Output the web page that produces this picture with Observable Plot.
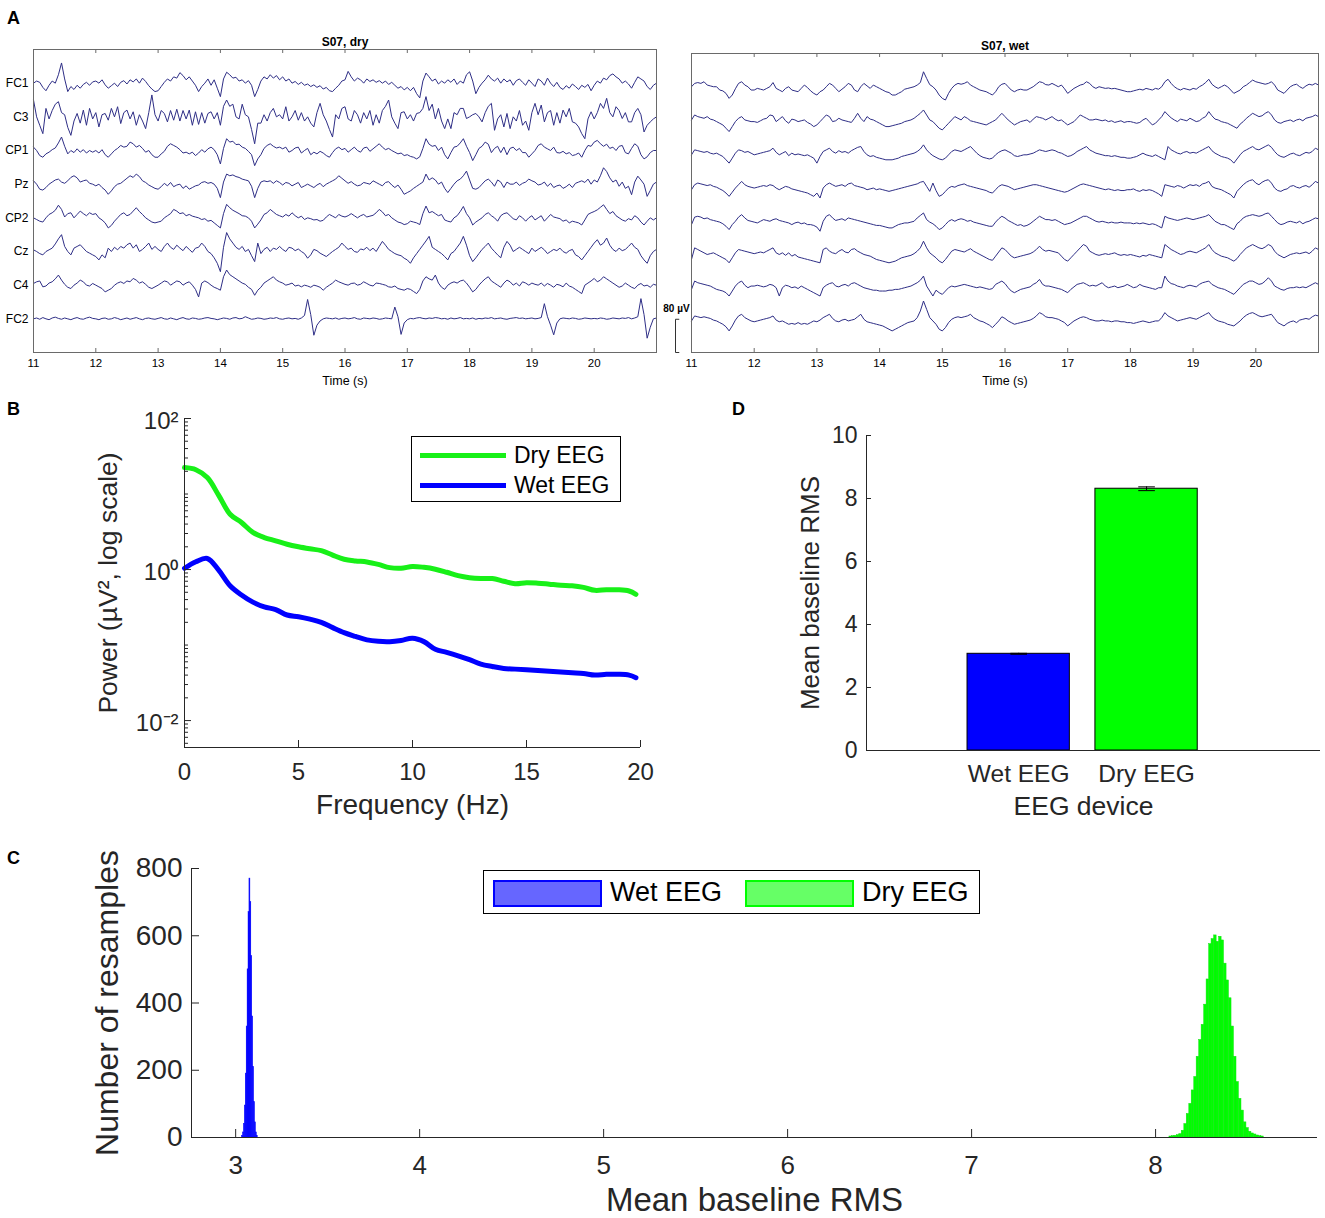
<!DOCTYPE html>
<html>
<head>
<meta charset="utf-8">
<script src="https://cdn.jsdelivr.net/npm/d3@7"></script>
<script src="https://cdn.jsdelivr.net/npm/@observablehq/plot@0.6"></script>
<style>
  body { margin: 0; background: #fff; }
  #fig { position: relative; width: 1325px; height: 1218px; overflow: hidden; background: #fff;
         font-family: "Liberation Sans", Arial, Helvetica, sans-serif; color: #262626; }
  .panel { position: absolute; }
  .panel svg { display: block; overflow: visible; }
  .letter { position: absolute; font-weight: bold; font-size: 18px; color: #000; line-height: 1; }
  .legend { position: absolute; border: 1px solid #000; background: #fff; box-sizing: border-box; }
  .legend .sw { position: absolute; box-sizing: border-box; }
  .legend .lb { position: absolute; white-space: nowrap; line-height: 1; color: #000; }
</style>
</head>
<body>
<div id="fig"></div>
<script>
// ---------------- DATA ----------------
// Panel A: EEG traces (µV), sampled every 0.05 s from 11 s
const channels = ["FC1", "C3", "CP1", "Pz", "CP2", "Cz", "C4", "FC2"];
const eegStart = 11;
const eegStep = 0.05;
const channelSpacing = 80;      // µV between traces (scale bar = 80 µV)
const scaleBarUV = 80;
const timeTicks = [11, 12, 13, 14, 15, 16, 17, 18, 19, 20];

const dryFC1 = [
  0, 5, 2, -10, -18, -5, 5, 0, 20, 48, 10, -20, -8, -15, -5, -12, -3, 2, -5, 3,
  5, 0, 8, -4, -12, -6, 0, -8, 2, 6, -2, 8, 3, 10, 0, 12, 4, -6, -14, -20,
  -18, -8, 2, 10, 5, 15, 12, 25, 18, 8, 15, 5, -5, -20, -8, 0, 10, -5, 8, -12,
  -32, 10, 26, 20, 12, 14, 5, 8, 0, 6, -5, -32, -15, 5, 15, 10, 20, 12, 18, 8,
  15, 5, 10, 0, 4, -3, 2, -5, -2, -8, -4, -10, -6, -14, -10, -18, -20, -12, -5, 5,
  8, 28, 15, 5, 12, 8, 0, 10, 4, 8, 2, 6, 0, 5, -3, 2, -5, -12, -8, -16,
  -10, -18, -10, -25, -35, 5, 24, 15, 5, 10, -2, 5, 0, 8, 2, 10, -3, 5, 0, 20,
  27, 5, -25, -10, 0, 8, 19, 10, 5, 12, 0, 10, 3, 8, -5, 6, 10, 2, -5, 8,
  0, -8, 10, 5, -5, 12, 0, -8, 2, -10, -15, -6, -12, -2, -8, -15, -5, -10, -3, -18,
  -5, 5, 0, 12, 8, 18, 22, 15, 10, 0, 5, -2, -12, 2, 15, 10, 5, -8, -15, -5, 0];
const dryC3 = [
  40, 0, -20, -40, 20, -5, 15, 30, 36, 10, 5, -25, -44, -10, 8, -15, 16, -20, 20, -5,
  10, -24, 5, 8, -8, 20, 0, 24, -16, 10, 16, -5, 12, -20, 5, -10, -28, 10, 52, 5,
  -10, 15, 8, -12, 15, -8, 18, -10, 15, -5, 16, -20, 12, -18, 10, -15, 8, 12, -5, 10,
  -20, 25, 40, 25, 30, 0, -5, 30, 5, 0, -30, -64, -15, -15, 5, -10, 10, 20, 0, 5,
  -5, 24, -10, 0, 15, -8, 10, -10, 0, -15, -24, 10, 32, 5, -10, -30, -48, 5, -5, 20,
  24, -5, -10, 15, 5, -15, 10, -5, 15, -20, 5, -15, 15, 25, 40, 0, -15, -28, 10, 12,
  -5, 5, -10, 8, 10, 20, 48, 15, 30, -5, 20, -10, -28, -5, -28, 10, 5, 20, 20, -4,
  0, 5, 8, 0, -12, 10, 25, 32, -32, -5, 5, -24, 8, -28, 0, -10, 15, -20, -10, -32,
  10, 32, 5, 28, -12, 10, 15, -20, 10, -15, 16, 0, 20, -12, -15, -24, -40, -52, -5, 12,
  -5, 10, 32, 20, 44, 10, 0, 24, 15, -4, 10, -12, -12, 10, 20, 5, -36, -20, -12, -5, 0];
const dryCP1 = [
  8, 0, -12, -16, -8, -4, 2, 6, 18, 32, 10, -8, 0, -5, 4, -4, 2, -6, 0, -4,
  0, -6, 2, -10, -16, -8, 0, 5, 12, 8, 10, 20, 16, 8, 12, 5, -4, 0, -10, -16,
  -16, -8, -2, 10, 16, 12, 8, 2, -6, -4, -8, -4, -12, -6, 2, -4, 4, 8, 2, -10,
  -32, 5, 28, 20, 22, 14, 15, 8, 5, -2, -10, -36, -20, -10, 5, 12, 16, 10, 6, 8,
  4, 8, -4, 0, 6, 8, -6, 0, 5, -10, -4, -8, -2, -6, -12, -16, -5, 4, 8, 2,
  5, -4, 2, 8, 0, -4, 6, 8, -2, 4, 10, 16, 8, 2, 5, 0, -4, -8, -6, -12,
  -10, -14, -16, -20, -15, 5, 28, 15, 10, 12, 0, 8, -10, -20, -5, 8, 10, 18, 28, 10,
  -5, -24, -10, 5, 10, 20, 15, -5, 5, 10, -5, 8, -10, 5, 8, 0, 5, -5, -5, -16,
  -8, 0, 12, 16, 8, 4, 0, 8, -5, -6, -2, -8, -5, -12, -10, -6, -16, 0, 12, 10,
  20, 24, 16, 10, 15, 5, 8, 0, 10, 12, -5, -8, 5, 16, 10, -10, -20, -15, -5, 0, 0];
const dryPz = [
  8, 0, -12, -14, -8, 0, 5, 10, 12, 5, 2, 8, 16, 20, 15, 5, 8, 10, 2, 0,
  -4, 0, -8, -14, -24, -16, -6, 0, 2, 8, 14, 20, 16, 24, 18, 8, 4, -2, -6, -10,
  -12, -6, 2, -4, 4, -6, -2, 0, -10, -4, -12, -8, -4, -2, 4, 6, 2, 4, 0, -10,
  -32, 5, 24, 20, 22, 18, 16, 12, 10, 8, -5, -32, -10, 5, 8, 6, 8, 2, 8, 4,
  -2, 4, 2, -4, 0, 4, -8, -4, 0, -4, -8, -2, 2, -6, 0, 4, 8, 12, 20, 14,
  8, 2, 6, 0, -4, -2, 4, 2, 0, 8, 4, 0, -4, 4, 6, -2, -8, -2, -12, -24,
  -20, -16, -10, -5, 0, 5, 24, 10, 15, 10, 0, 5, -10, -20, -10, 0, 8, 12, 20, 31,
  10, -10, -12, -8, 0, 8, 12, 5, -5, 10, 5, -8, 5, 0, 0, 5, -3, 2, 5, 12,
  8, 5, -2, 0, 5, -5, 2, -8, -4, -2, -10, -6, 0, -8, 2, 5, 8, 4, 12, 0,
  10, 5, 20, 39, 30, 15, 5, 10, -5, 5, -10, -5, -25, 5, 19, 10, 0, -29, -15, 0, 5];
const dryCP2 = [
  0, -4, -8, -10, 0, 8, 12, 18, 30, 20, 2, 10, 12, 0, 8, 16, 10, 5, 12, 8,
  10, 0, -5, -12, -24, -18, -8, 0, 8, 12, 5, 8, 16, 24, 15, 8, 0, -5, -10, -12,
  -10, -8, 0, 5, 10, 20, 16, 10, 12, 5, 8, 4, 2, 0, -4, -2, -8, -6, -12, -18,
  -24, 10, 32, 24, 18, 14, 10, 5, 4, 0, -8, -24, -15, -5, 8, 12, 20, 14, 8, 5,
  2, 8, 4, 12, 5, 0, 4, -4, 0, -2, -5, -4, -8, -6, 2, 8, 4, 0, 8, 4,
  2, 5, 10, 5, 0, 5, 8, 2, 4, 6, 12, 20, 14, 5, 8, 0, -5, -10, -12, -16,
  -14, -8, -10, -12, -16, 10, 28, 12, 15, 10, 5, 8, -5, -8, -10, 0, 5, 15, 27, 10,
  0, -17, -10, -5, 0, 8, 12, 5, 0, -8, 5, 10, 12, 5, -2, -5, 5, 0, -8, 0,
  5, -5, 0, 5, -8, 0, 8, 2, 0, -2, -8, -5, -12, -8, -10, -12, -17, -5, 8, 12,
  15, 19, 25, 31, 20, 10, 15, 5, 0, -5, -8, -2, -5, 5, 0, -10, -17, -8, 0, -5, 0];
const dryCz = [
  4, 0, -5, -8, 0, 4, 8, 18, 30, 40, 12, 0, -8, 8, 12, 16, 8, 0, -4, -8,
  -12, -20, -8, -15, 8, 0, 10, 4, 12, 8, 16, 20, 8, 16, 0, 5, 12, 20, 5, 12,
  5, 0, 12, 20, 10, 5, 15, 8, 2, 12, 5, -2, 8, 10, 20, 12, 0, -5, -15, -28,
  -48, 10, 45, 30, 20, 10, 5, 12, 0, 5, -10, -24, 20, -5, 5, 10, 0, 8, 5, 12,
  5, 0, 10, 8, 2, 6, 0, -5, -16, -8, 5, 2, -4, -8, -12, -6, 0, 5, 10, 20,
  12, 5, 8, 0, -2, 6, 4, 10, 2, 8, 0, 12, 24, 15, 5, 0, -5, -8, -10, -16,
  -20, -28, -15, -5, 5, 15, 25, 36, 10, 5, 0, -5, -12, -20, -5, 0, 10, 20, 36, 15,
  -10, -24, -15, -5, 5, 12, 20, 8, 0, -8, -15, 10, 24, 15, 0, 5, 10, 5, 0, -5,
  8, 0, 5, 10, 4, -5, 0, 5, 2, 8, 0, -4, 2, 5, -8, -12, -20, -10, 0, 10,
  20, 28, 15, 20, 32, 15, 5, 0, 8, 2, 5, 12, 20, 10, 5, -10, -20, -28, -10, 0, 5];
const dryC4 = [
  4, 8, 10, -4, -2, 5, 8, 15, 24, 12, 2, -5, -8, 0, 5, 12, 8, 0, -2, 4,
  0, -4, -8, -16, -12, -8, 0, 5, 8, 4, 10, 8, 16, 12, 5, 8, 2, -5, -8, -4,
  0, 5, 10, 8, 0, 5, 10, 8, 0, 5, 8, 0, -10, -28, 5, 10, 6, 0, -5, -8,
  -12, 20, 36, 25, 20, 15, 10, 5, 2, -5, -10, -24, -12, -5, 5, 10, 15, 20, 12, 8,
  5, 0, 2, 5, -2, 0, -4, 0, -2, -5, 0, -2, -5, -12, -5, 0, 5, 12, 8, 5,
  2, 0, 4, 5, 0, 2, 8, 4, 0, -2, 5, 4, 2, 0, -4, -5, -2, -8, -10, -12,
  -8, -10, -15, -20, -10, 10, 20, 15, 12, 24, 5, -5, -10, 0, 5, 8, 5, 10, 12, 5,
  -5, -16, -10, 0, 8, 15, 20, 10, 5, 0, -5, 5, 12, 8, 0, 5, -2, 8, 5, 0,
  5, 2, 0, 5, -2, 4, 0, -5, 2, 0, -4, 5, -2, -5, -10, -15, -20, 0, 5, 10,
  16, 8, 12, 20, 15, 10, 5, 0, -5, -2, 5, 0, -5, -8, 0, 4, -2, 0, -5, 2, 0];
const dryFC2 = [
  0, 2, -1, 3, 0, -2, 2, 4, 1, -1, 2, 0, -2, 1, 3, 0, -1, 2, 4, 1,
  0, -2, 1, 2, -1, 0, 3, 1, -2, 0, 2, -1, 1, 3, 0, -2, 1, 2, 0, -1,
  1, 3, 0, -1, 2, 0, -2, 1, 3, 0, -1, 2, 1, -1, 0, 2, 3, 1, 0, -2,
  0, 2, 1, -1, 2, 3, 0, 1, 5, 2, -1, 0, 2, 1, -1, 0, 2, 1, 3, 0,
  -1, 1, 2, 0, 1, -1, 2, 8, 46, 10, -39, -15, -5, 0, 2, 1, 0, 2, -1, 1,
  2, 0, 1, 3, 0, -1, 2, 1, 0, 2, 1, -1, 0, 2, 1, 0, 28, 5, -37, -10,
  -2, 1, 0, 2, 3, 1, 0, 2, 1, 3, 2, 0, 1, -1, 2, 0, 1, 3, 0, 1,
  0, 2, -1, 1, 0, 2, 1, 3, 0, 1, 2, 0, -1, 1, 2, 3, 1, 2, 0, 1,
  2, 0, 1, 3, 36, 5, -15, -38, -10, 0, 2, 1, 0, 2, 1, -1, 0, 2, 1, 0,
  1, 0, 2, 1, -1, 0, 2, 1, 0, 2, 1, 3, 0, 2, 5, 48, 10, -46, -20, 0, 2];

const wetFC1 = [
  0, 8, 10, 8, 12, 4, 2, 0, 0, -8, -10, -16, -28, -20, -5, 8, 12, 4, 0, -8,
  -8, -4, -6, -8, -4, 0, 10, -4, -8, -12, -4, 0, -8, -10, -12, -4, 4, -2, -10, -16,
  -20, -12, -8, 0, 8, 4, -4, -12, -6, 0, 8, 4, -8, -12, 0, 8, 2, -4, 4, 0,
  -4, -8, -12, -14, -20, -20, -16, -12, -6, -4, -2, 0, 4, 10, 36, 20, 5, 0, -8, -20,
  -28, -32, -16, -4, 4, 8, 6, 8, 12, 4, 0, -4, -8, -10, -12, -16, -20, -12, 0, 6,
  8, 0, -8, -12, -8, -6, -8, -8, -4, 0, 6, 12, 10, 5, 4, 8, 4, 0, 4, -5,
  -16, -10, -4, 0, 4, 6, 12, 8, 0, -4, 0, -2, -4, -3, -5, -4, -6, -8, -10, -12,
  -12, -10, -8, -6, -8, -4, -6, -8, -4, -6, 0, 12, 18, 8, 0, -5, -8, -4, -6, -8,
  -4, -6, 0, 4, 10, 18, 6, 0, -4, 0, 4, 0, -8, -16, -12, -8, 0, 4, 10, 16,
  12, 10, 8, 6, 8, 12, 4, -8, -12, -16, -8, 0, 4, 6, 0, -4, 2, 6, 4, 8, 4];
const wetC3 = [
  0, 12, 8, 6, 4, 8, 2, 0, -4, -8, -12, -20, -28, -16, -4, 4, 8, 0, -2, -4,
  -4, -6, -2, 2, 4, 12, 10, -4, 2, 8, -2, -8, 2, 0, -4, -2, 0, -6, -10, -16,
  -12, -4, 4, 12, 8, -4, -2, 4, 0, -2, -4, -6, 4, 16, 4, -4, 8, 2, 0, -4,
  -8, -12, -16, -16, -14, -12, -10, -8, -4, -2, 0, 4, 10, 16, 24, 12, 0, -4, -12, -20,
  -24, -16, -8, 0, 8, 4, 0, 8, 4, -2, -4, -6, -8, -10, -12, -8, -4, 0, 8, 16,
  8, 0, -6, -12, -8, -4, -2, 0, -6, 2, 8, 6, 4, 0, 4, 8, 2, -2, 0, -6,
  -12, -8, -4, 4, 12, 8, 4, 0, 0, 2, 0, -2, 0, -4, -2, -6, -4, -2, -6, -4,
  -4, -6, -8, -6, 0, 4, -4, -12, -8, 0, 8, 20, 12, 5, 0, -4, 2, 0, -2, 4,
  0, -4, -2, 4, 8, 20, 10, 2, 0, -4, -6, -8, -12, -16, -20, -10, -4, 4, 10, 16,
  12, 8, 10, 16, 20, 12, 0, -6, -8, -4, -2, 0, -4, 0, 2, -2, 4, 6, 8, 12, 8];
const wetCP1 = [
  -4, 8, 6, 4, 2, 4, 0, -2, 0, -4, -8, -16, -24, -12, 0, 8, 6, 2, 4, 0,
  -4, -2, 0, 2, 4, 6, 12, 2, -4, 0, 4, -6, 0, -4, -2, -4, -6, -4, -8, -12,
  -24, -8, 4, 8, 12, 4, 0, 6, 2, 4, 0, 6, 10, 14, 16, 4, -4, -8, -6, -10,
  -12, -14, -16, -16, -16, -14, -12, -8, -6, -4, -2, 0, 4, 10, 20, 8, 0, -6, -10, -14,
  -16, -12, -4, 4, 8, 6, 4, 8, 12, 16, 8, 0, -6, -10, -12, -14, -12, -4, 2, 6,
  8, 4, 0, -6, -8, -6, -4, -4, -2, 0, 4, 8, 6, 4, 6, 8, 6, 2, 0, -4,
  -8, -6, -2, 4, 8, 12, 16, 8, 4, 0, -2, -4, -6, -6, -8, -6, -8, -10, -10, -12,
  -12, -10, -8, -4, 0, -4, -6, -8, -4, -8, -12, -16, 16, 8, 4, 0, -2, 2, 4, 0,
  2, 0, 4, 8, 12, 16, 6, 0, -4, -8, -10, -12, -16, -24, -14, -4, 4, 8, 12, 16,
  10, 8, 12, 16, 20, 14, 4, -4, -8, -10, -6, -2, 0, -4, -6, -2, 2, 0, 4, 12, 8];
const wetPz = [
  -8, 4, 8, 6, 4, 2, 4, 0, -2, -6, -10, -16, -24, -14, -4, 4, 12, 4, 0, -2,
  -4, -2, 0, 2, 0, 4, 2, -4, -8, -4, 0, -2, -6, -8, -10, -12, -14, -16, -20, -24,
  -16, -28, -4, 4, 8, 4, 0, 2, 4, 0, 6, 8, 2, 0, -2, -4, -8, -6, -4, -8,
  -6, -8, -10, -12, -10, -8, -6, -4, -2, 0, 2, 4, 6, 10, 12, 0, -12, 8, -10, -24,
  -20, -12, -4, 0, -2, 2, 4, 6, 2, 0, -2, -4, -6, -8, -10, -14, -16, -8, 0, 4,
  2, 0, -4, -8, -6, -4, -2, 0, 2, 4, 4, 2, 0, -2, -4, -6, -8, -10, -12, -14,
  -12, -8, -4, 0, 4, 6, 4, 2, 0, -2, -4, -6, -8, -6, -8, -10, -8, -10, -10, -8,
  -8, -6, -10, -12, -8, -10, -8, -10, -14, -18, -24, 4, 2, 0, -2, 2, 0, -4, 0, 4,
  2, 4, 0, 6, 8, 12, 0, -4, -6, -8, -12, -16, -20, -28, -12, -4, 4, 10, 14, 16,
  8, 4, 10, 14, 16, 8, -4, -10, -12, -8, -6, 0, 2, -2, -4, 0, 2, -2, 4, 12, 8];
const wetCP2 = [
  -12, 6, 8, 6, 2, 4, 0, -2, -4, -6, -10, -16, -24, -12, -4, 6, 12, 4, -2, -4,
  -6, -8, -4, 0, -2, -4, 0, 2, -2, -4, -6, -8, -12, -8, -6, -10, -8, -12, -12, -14,
  -18, -28, -4, 8, 12, 4, -2, 0, 2, -2, 4, 2, 0, -2, -4, -6, -8, -10, -12, -14,
  -14, -16, -18, -20, -20, -16, -12, -10, -8, -8, -6, -4, 4, 10, 16, 0, -6, -10, -16, -24,
  -20, -12, -4, 0, -4, 0, 2, 0, -4, -2, -6, -8, -10, -12, -14, -16, -16, -6, 2, 8,
  4, -2, -6, -10, -14, -12, -16, -14, -10, -4, 2, 8, 4, 0, 0, -2, 0, -4, -8, -12,
  -10, -8, -4, 0, 4, 8, 8, 4, 0, -4, -6, -4, -6, -8, -6, -8, -8, -6, -8, -8,
  -8, -10, -8, -10, -8, -10, -12, -10, -12, -16, -20, 8, 4, 2, 0, -2, 0, 2, 4, 2,
  0, 2, 4, 6, 8, 12, 4, -4, -8, -12, -12, -16, -20, -24, -10, -4, 4, 8, 10, 12,
  10, 8, 10, 14, 16, 8, 0, -8, -12, -10, -6, -4, -6, -8, -4, -10, -6, -4, 0, 4, 2];
const wetCz = [
  -16, 12, 8, 4, 0, -4, -2, 0, -4, -8, -12, -16, -24, -12, 0, 8, 6, 4, 2, 0,
  -2, 0, 2, 0, 4, 8, 12, 0, -4, 0, -6, 0, -8, -4, -10, -12, -14, -16, -18, -20,
  -22, -24, 8, 12, 4, 0, -2, 4, 8, 2, 0, 8, 10, 4, 0, -4, -6, -8, -12, -16,
  -18, -20, -22, -24, -22, -20, -16, -12, -10, -8, -6, -2, 4, 12, 28, 12, 0, -6, -12, -20,
  -24, -16, -6, 4, 8, 6, 4, 2, 6, 10, 4, 0, -4, -8, -12, -16, -18, -8, 2, 12,
  8, 0, -8, -12, -10, -8, -6, -4, -2, 2, 8, 16, 8, 4, 6, 4, 2, 0, -8, -16,
  -20, -12, -4, 4, 12, 20, 16, 4, 0, -4, -6, -4, -2, -4, -2, 0, -4, -6, -4, -6,
  -4, -6, -8, -10, -6, -8, -4, -6, -8, -10, -12, 20, 14, 8, 4, 0, -4, -2, 2, 4,
  2, 0, 4, 8, 12, 20, 8, 0, -4, -8, -10, -12, -16, -20, -14, -4, 4, 12, 16, 20,
  16, 12, 10, 14, 20, 16, 4, -4, -8, -12, -8, -4, -2, 0, -2, 0, 2, -2, 4, 12, 8];
const wetC4 = [
  -8, 12, 8, 6, 4, 2, 0, -4, -8, -10, -12, -16, -24, -12, 0, 8, 12, 2, -4, 0,
  0, 2, 0, -2, 0, 4, 2, -4, -24, -4, 2, 0, -4, -2, -6, 0, -4, -8, -12, -16,
  -20, -24, -4, 2, 6, 8, 0, -2, 2, 4, 0, 6, 8, 4, 0, -4, -6, -8, -10, -10,
  -12, -12, -12, -10, -10, -8, -8, -6, -4, -2, 0, 4, 8, 14, 24, 0, -12, -24, -10, -16,
  -20, -12, -4, 0, -2, 0, 2, 4, 2, 0, -2, -4, -2, -4, -6, -8, -6, 4, 8, 12,
  6, -4, -12, -16, -12, -8, -6, -4, -2, 4, 8, 16, 4, 0, 0, -2, -4, -6, -8, -12,
  -16, -8, -2, 4, 6, 8, 4, 0, 2, 0, 4, 8, 0, -4, -2, 0, -4, -2, 0, 4,
  0, -4, -2, 4, 0, -2, -4, -6, -8, -4, -4, 24, 12, 6, 4, 0, -2, -4, 0, 2,
  0, -2, 4, 8, 10, 12, 4, 0, -4, -6, -8, -12, -16, -20, -12, -4, 4, 8, 12, 12,
  8, 4, 6, 12, 20, 12, 0, -4, -8, -10, -6, -4, -4, -2, -4, -2, -4, 0, 4, 8, 4];
const wetFC2 = [
  -4, 8, 6, 4, 6, 4, 2, -2, -4, -8, -12, -18, -28, -16, -2, 8, 12, 4, 0, -4,
  -6, -4, -2, 0, 2, 4, 8, -2, -6, -4, -8, -12, -10, -12, -8, -12, -10, -12, -8, -4,
  -6, -2, 4, 8, 12, 2, -4, -6, -2, 0, -4, -2, 0, 6, 12, 0, -6, -8, -10, -12,
  -14, -16, -20, -24, -28, -24, -20, -16, -12, -8, -6, -4, 4, 20, 44, 24, 4, -4, -12, -24,
  -28, -20, -8, 0, 4, 6, 4, 6, 8, 12, 4, 0, -4, -6, -10, -14, -20, -12, -4, 6,
  2, -4, -8, -12, -10, -8, -6, -4, -2, 2, 8, 16, 12, 6, 4, 4, 2, 0, -4, -8,
  -16, -10, -4, 0, 4, 6, 4, 0, -2, -4, -4, -2, -4, -4, -6, -4, -4, -6, -6, -8,
  -8, -10, -8, -6, -4, -6, -8, -6, -4, -4, 4, 16, 8, 4, 0, -4, -2, 0, 2, 4,
  2, 0, 4, 8, 12, 16, 6, 0, -4, -6, -8, -12, -14, -16, -10, -4, 4, 10, 14, 16,
  12, 8, 6, 8, 10, 12, 2, -8, -12, -16, -10, -6, -4, -8, -2, 0, 2, 0, 6, 10, 8];

// Panel B: power spectra
const psdFreq = [0, 0.5, 1, 1.5, 2, 2.5, 3, 3.5, 4, 4.5, 5, 5.5, 6, 6.5, 7, 7.5, 8, 8.5, 9, 9.5,
  10, 10.5, 11, 11.5, 12, 12.5, 13, 13.5, 14, 14.5, 15, 15.5, 16, 16.5, 17, 17.5, 18, 18.5, 19, 19.5, 19.8];
const psdDry = [22.4, 21, 16.5, 9.6, 5.4, 4.2, 3.1, 2.65, 2.4, 2.16, 2.0, 1.88, 1.78, 1.55, 1.37, 1.3,
  1.26, 1.17, 1.06, 1.04, 1.1, 1.07, 1.01, 0.92, 0.83, 0.78, 0.76, 0.76, 0.7, 0.65, 0.67, 0.66,
  0.64, 0.62, 0.61, 0.58, 0.53, 0.54, 0.54, 0.52, 0.47];
const psdWet = [1.04, 1.27, 1.4, 0.98, 0.61, 0.46, 0.37, 0.32, 0.295, 0.25, 0.237, 0.22, 0.2, 0.17,
  0.146, 0.13, 0.117, 0.112, 0.111, 0.115, 0.123, 0.111, 0.088, 0.08, 0.072, 0.064, 0.056, 0.052,
  0.049, 0.048, 0.047, 0.046, 0.045, 0.044, 0.043, 0.042, 0.04, 0.041, 0.041, 0.04, 0.037];
const seriesNames = ["Dry EEG", "Wet EEG"];

// Panel C: bootstrap histograms
const wetBinCenters = [3.0375, 3.0425, 3.0475, 3.0525, 3.0575, 3.0625, 3.0675, 3.0725, 3.0775,
  3.0825, 3.0875, 3.0925, 3.0975, 3.1025, 3.1075, 3.1125, 3.1175];
const wetCounts = [5, 15, 40, 95, 190, 330, 500, 670, 770, 700, 540, 360, 210, 105, 45, 15, 5];
const wetBinWidth = 0.005;
const dryBinCenters = [8.082, 8.095, 8.109, 8.122, 8.136, 8.149, 8.163, 8.176, 8.190, 8.203, 8.217,
  8.230, 8.244, 8.257, 8.271, 8.284, 8.298, 8.311, 8.325, 8.338, 8.352, 8.365, 8.379, 8.392, 8.406,
  8.419, 8.433, 8.446, 8.460, 8.473, 8.487, 8.500, 8.514, 8.527, 8.541, 8.554, 8.568, 8.581];
const dryCounts = [3, 4, 5, 7, 10, 20, 40, 70, 100, 140, 180, 240, 290, 335, 395, 470, 575, 590, 601,
  582, 597, 586, 517, 467, 414, 330, 240, 165, 115, 80, 45, 28, 17, 12, 9, 6, 4, 3];
const dryBinWidth = 0.0135;
const histTicksX = [3, 4, 5, 6, 7, 8];
const histTicksY = [0, 200, 400, 600, 800];

// Panel D: mean baseline RMS
const devices = ["Wet EEG", "Dry EEG"];
const devicePos = [1, 2];
const rmsMean = [3.07, 8.31];
const rmsErr = [0.015, 0.06];

// ---------------- STYLE ----------------
const FONT = '"Liberation Sans", Arial, Helvetica, sans-serif';
const TRACE = "#2e2e86";
const FRAMEC = "#6a6a6a";
const AX = "#262626";
const GREEN = "#00ff00";
const BLUE = "#0000ff";

const fig = document.getElementById("fig");
function place(el, left, top) {
  const d = document.createElement("div");
  d.className = "panel";
  d.style.left = left + "px";
  d.style.top = top + "px";
  d.appendChild(el);
  fig.appendChild(d);
}
function letter(t, left, top) {
  const d = document.createElement("div");
  d.className = "letter";
  d.textContent = t;
  d.style.left = left + "px";
  d.style.top = top + "px";
  fig.appendChild(d);
}

// ---------------- PANEL A ----------------
function traceRows(traces) {
  return traces.flatMap((vals, k) => vals.map((v, i) => ({
    ch: channels[k], t: eegStart + i * eegStep, y: (channels.length - k) * channelSpacing + v
  })));
}
const offsets = channels.map((c, k) => (channels.length - k) * channelSpacing);
const yTop = (channels.length + 1) * channelSpacing;

function eegPanel({traces, title, width, height, mL, mR, mT, mB, labels, scaleBar}) {
  const frameH = height - mT - mB;
  const marks = [
    Plot.line(traceRows(traces), {x: "t", y: "y", z: "ch", stroke: TRACE, strokeWidth: 1, strokeLinejoin: "round"}),
    Plot.frame({stroke: FRAMEC, strokeWidth: 1}),
    Plot.tickX(timeTicks, {x: d => d, insetTop: frameH - 4, stroke: FRAMEC}),
    Plot.tickX(timeTicks, {x: d => d, insetBottom: frameH - 4, stroke: FRAMEC}),
    Plot.axisX({ticks: timeTicks, tickSize: 0, tickPadding: 6, fontSize: 11.5, label: null, tickFormat: d => String(d)}),
    Plot.text(["Time (s)"], {frameAnchor: "bottom", dy: 28, text: d => d, fontSize: 12.5, lineAnchor: "middle", textAnchor: "middle"}),
    Plot.text([title], {frameAnchor: "top", dy: -7, text: d => d, fontSize: 12, fontWeight: "bold", lineAnchor: "middle", textAnchor: "middle"})
  ];
  if (labels) {
    marks.push(Plot.axisY({ticks: offsets, tickFormat: d => channels[channels.length - d / channelSpacing],
      tickSize: 0, tickPadding: 5, fontSize: 12, label: null}));
  }
  if (scaleBar) {
    const sx = 10.745, sTick = 0.06;
    marks.push(Plot.link([
      {x1: sx, x2: sx, y1: 0, y2: scaleBarUV},
      {x1: sx, x2: sx + sTick, y1: 0, y2: 0},
      {x1: sx, x2: sx + sTick, y1: scaleBarUV, y2: scaleBarUV}
    ], {x1: "x1", x2: "x2", y1: "y1", y2: "y2", stroke: "#333", strokeWidth: 1}));
    marks.push(Plot.text([scaleBarUV], {x: () => 10.76, y: d => d + 26, text: d => `${d} µV`,
      fontSize: 10, fontWeight: "bold", fill: "#000"}));
  }
  return Plot.plot({
    width, height, marginLeft: mL, marginRight: mR, marginTop: mT, marginBottom: mB,
    x: {domain: [11, 21]},
    y: {domain: [0, yTop], axis: labels ? undefined : null},
    style: {fontFamily: FONT, color: "#000", background: "transparent", overflow: "visible"},
    marks
  });
}

place(eegPanel({traces: [dryFC1, dryC3, dryCP1, dryPz, dryCP2, dryCz, dryC4, dryFC2], title: "S07, dry",
  width: 665, height: 370, mL: 33, mR: 9, mT: 19, mB: 48, labels: true, scaleBar: false}), 0, 30);
place(eegPanel({traces: [wetFC1, wetC3, wetCP1, wetPz, wetCP2, wetCz, wetC4, wetFC2], title: "S07, wet",
  width: 665, height: 370, mL: 31, mR: 7, mT: 23, mB: 48, labels: false, scaleBar: true}), 660, 30);

// ---------------- PANEL B ----------------
(function () {
  const W = 570, H = 430, mL = 94, mR = 20, mT = 18, mB = 83;
  const frameW = W - mL - mR, frameH = H - mT - mB;
  const rows = [];
  psdFreq.forEach((f, i) => {
    rows.push({series: "Dry EEG", f, p: psdDry[i]});
    rows.push({series: "Wet EEG", f, p: psdWet[i]});
  });
  const yMin = 0.0044;
  const major = [0.01, 1, 100];
  const minor = [];
  for (let e = -3; e <= 1; e++) for (let k = 1; k <= 9; k++) {
    const v = k * Math.pow(10, e);
    if (v >= yMin && v <= 100 && !major.some(m => Math.abs(m - v) < 1e-12)) minor.push(v);
  }
  const sup = {0.01: "10⁻²", 1: "10⁰", 100: "10²"};
  const chart = Plot.plot({
    width: W, height: H, marginLeft: mL, marginRight: mR, marginTop: mT, marginBottom: mB,
    x: {domain: [0, 20]},
    y: {type: "log", domain: [yMin, 100]},
    color: {domain: seriesNames, range: ["#18f018", BLUE]},
    style: {fontFamily: FONT, color: AX, background: "transparent", overflow: "visible"},
    marks: [
      Plot.line(rows, {x: "f", y: "p", z: "series", stroke: "series", strokeWidth: 5, curve: "catmull-rom"}),
      Plot.ruleX([0], {stroke: AX}),
      Plot.ruleY([yMin], {stroke: AX}),
      Plot.tickY(major, {y: d => d, insetRight: frameW - 7, stroke: AX}),
      Plot.tickY(minor, {y: d => d, insetRight: frameW - 4, stroke: AX}),
      Plot.tickX([0, 5, 10, 15, 20], {x: d => d, insetTop: frameH - 7, stroke: AX}),
      Plot.axisX({ticks: [0, 5, 10, 15, 20], tickSize: 0, tickPadding: 15, fontSize: 24, label: null, tickFormat: d => String(d)}),
      Plot.axisY({ticks: major, tickFormat: d => sup[d], tickSize: 0, tickPadding: 6, fontSize: 24, label: null, dy: 3}),
      Plot.text(["Frequency (Hz)"], {frameAnchor: "bottom", dy: 58, text: d => d, fontSize: 28, lineAnchor: "middle", textAnchor: "middle"}),
      Plot.text(["Power (µV², log scale)"], {frameAnchor: "left", dx: -76, rotate: -90, text: d => d, fontSize: 26.5, lineAnchor: "middle", textAnchor: "middle"})
    ]
  });
  place(chart, 90, 400);
})();

// ---------------- PANEL D ----------------
(function () {
  const W = 545, H = 430, mL = 86, mR = 5, mT = 35, mB = 80;
  const frameW = W - mL - mR;
  const bars = devices.map((d, i) => ({device: d, pos: devicePos[i], mean: rmsMean[i], err: rmsErr[i],
    color: i === 0 ? BLUE : GREEN}));
  const barHalf = 0.4, capHalf = 0.065;
  const chart = Plot.plot({
    width: W, height: H, marginLeft: mL, marginRight: mR, marginTop: mT, marginBottom: mB,
    x: {domain: [-0.19, 3.36]},
    y: {domain: [0, 10]},
    color: {type: "identity"},
    style: {fontFamily: FONT, color: AX, background: "transparent", overflow: "visible"},
    marks: [
      Plot.rect(bars, {x1: d => d.pos - barHalf, x2: d => d.pos + barHalf, y1: () => 0, y2: "mean",
        fill: "color", stroke: "#000", strokeWidth: 1}),
      Plot.ruleX(bars, {x: "pos", y1: d => d.mean - d.err, y2: d => d.mean + d.err, stroke: "#000"}),
      Plot.link(bars, {x1: d => d.pos - capHalf, x2: d => d.pos + capHalf, y1: d => d.mean - d.err, y2: d => d.mean - d.err, stroke: "#000"}),
      Plot.link(bars, {x1: d => d.pos - capHalf, x2: d => d.pos + capHalf, y1: d => d.mean + d.err, y2: d => d.mean + d.err, stroke: "#000"}),
      Plot.ruleX([-0.19], {stroke: AX}),
      Plot.ruleY([0], {stroke: AX}),
      Plot.tickY([0, 2, 4, 6, 8, 10], {y: d => d, insetRight: frameW - 5, stroke: AX}),
      Plot.axisY({ticks: [0, 2, 4, 6, 8, 10], tickSize: 0, tickPadding: 9, fontSize: 23, label: null, tickFormat: d => String(d)}),
      Plot.axisX({ticks: devicePos, tickFormat: d => devices[devicePos.indexOf(d)], tickSize: 0, tickPadding: 14, fontSize: 24.5, label: null}),
      Plot.text(["EEG device"], {frameAnchor: "bottom", dy: 56, dx: -10, text: d => d, fontSize: 26.5, lineAnchor: "middle", textAnchor: "middle"}),
      Plot.text(["Mean baseline RMS"], {frameAnchor: "left", dx: -56, rotate: -90, text: d => d, fontSize: 26, lineAnchor: "middle", textAnchor: "middle"})
    ]
  });
  place(chart, 780, 400);
})();

// ---------------- PANEL C ----------------
(function () {
  const W = 1235, H = 378, mL = 101, mR = 8, mT = 28, mB = 81;
  const frameW = W - mL - mR, frameH = H - mT - mB;
  const xMin = 2.76, xMax = 8.88;
  const wet = wetBinCenters.map((c, i) => ({x1: c - wetBinWidth / 2, x2: c + wetBinWidth / 2, n: wetCounts[i]}));
  const dry = dryBinCenters.map((c, i) => ({x1: c - dryBinWidth / 2, x2: c + dryBinWidth / 2, n: dryCounts[i]}));
  const chart = Plot.plot({
    width: W, height: H, marginLeft: mL, marginRight: mR, marginTop: mT, marginBottom: mB,
    x: {domain: [xMin, xMax]},
    y: {domain: [0, 800]},
    style: {fontFamily: FONT, color: AX, background: "transparent", overflow: "visible"},
    marks: [
      Plot.rect(wet, {x1: "x1", x2: "x2", y1: () => 0, y2: "n", fill: BLUE, stroke: BLUE, strokeWidth: 0.5}),
      Plot.rect(dry, {x1: "x1", x2: "x2", y1: () => 0, y2: "n", fill: GREEN, stroke: "#10e010", strokeWidth: 0.5}),
      Plot.ruleX([xMin], {stroke: AX}),
      Plot.ruleY([0], {stroke: AX, strokeWidth: 1.2}),
      Plot.tickX(histTicksX, {x: d => d, insetTop: frameH - 8, stroke: AX}),
      Plot.tickY(histTicksY, {y: d => d, insetRight: frameW - 8, stroke: AX}),
      Plot.axisX({ticks: histTicksX, tickSize: 0, tickPadding: 18, fontSize: 26, label: null, tickFormat: d => String(d)}),
      Plot.axisY({ticks: histTicksY, tickSize: 0, tickPadding: 9, fontSize: 28, label: null, tickFormat: d => String(d)}),
      Plot.text(["Mean baseline RMS"], {frameAnchor: "bottom", dy: 63, text: d => d, fontSize: 33, lineAnchor: "middle", textAnchor: "middle"}),
      Plot.text(["Number of resamples"], {frameAnchor: "left", dx: -84, rotate: -90, text: d => d, fontSize: 32, lineAnchor: "middle", textAnchor: "middle"})
    ]
  });
  place(chart, 90, 840);
})();

// ---------------- LEGENDS & LETTERS ----------------
function legend(box, items) {
  const d = document.createElement("div");
  d.className = "legend";
  Object.assign(d.style, {left: box.x + "px", top: box.y + "px", width: box.w + "px", height: box.h + "px"});
  items.forEach(it => {
    const s = document.createElement("div");
    s.className = "sw";
    Object.assign(s.style, {left: it.sx + "px", top: it.sy + "px", width: it.sw + "px", height: it.sh + "px",
      background: it.fill, border: it.border || "none"});
    d.appendChild(s);
    const l = document.createElement("div");
    l.className = "lb";
    l.textContent = it.label;
    Object.assign(l.style, {left: it.lx + "px", top: it.ly + "px", fontSize: it.fs + "px"});
    d.appendChild(l);
  });
  fig.appendChild(d);
}
legend({x: 411, y: 436, w: 210, h: 66}, [
  {sx: 8, sy: 16, sw: 86, sh: 5, fill: "#18f018", label: seriesNames[0], lx: 102, ly: 7, fs: 23},
  {sx: 8, sy: 46, sw: 86, sh: 5, fill: BLUE, label: seriesNames[1], lx: 102, ly: 37, fs: 23}
]);
legend({x: 483, y: 870, w: 497, h: 44}, [
  {sx: 9, sy: 9, sw: 109, sh: 27, fill: "#6666ff", border: "2px solid #0000ff", label: devices[0], lx: 126, ly: 8, fs: 27},
  {sx: 261, sy: 9, sw: 109, sh: 27, fill: "#66ff66", border: "2px solid #00ff00", label: devices[1], lx: 378, ly: 8, fs: 27}
]);

letter("A", 7, 9);
letter("B", 7, 400);
letter("C", 7, 849);
letter("D", 732, 400);
</script>
</body>
</html>
